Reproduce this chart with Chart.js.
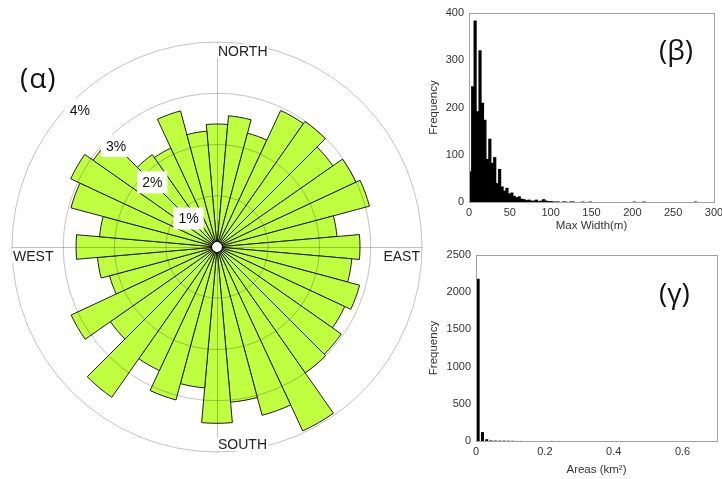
<!DOCTYPE html>
<html lang="en">
<head>
<meta charset="UTF-8">
<title>Rose diagram and size histograms</title>
<script src="https://cdn.jsdelivr.net/npm/chart.js"></script>
<style>
  body {
    margin: 0;
    width: 722px;
    height: 479px;
    overflow: hidden;
    position: relative;
    background: #fff;
  }
  canvas { position: absolute; }
  #rose { left: 0; top: 0; }
  #widthHist { left: 425px; top: 0; }
  #areaHist { left: 425px; top: 240px; }
  .tag {
    position: absolute;
    font-family: 'Open Sans', sans-serif;
    font-size: 28px;
    line-height: 28px;
    color: #111;
  }
</style>
</head>
<body>
<canvas id="rose" width="440" height="479"></canvas>
<canvas id="widthHist" width="310" height="235"></canvas>
<canvas id="areaHist" width="310" height="239"></canvas>
<div class="tag" style="left:20px; top:63px; letter-spacing:1px;">(α)</div>
<div class="tag" style="left:659px; top:35px;">(β)</div>
<div class="tag" style="left:659px; top:278px;">(γ)</div>

<script>
// rose: 10 degree sectors, clockwise from north, % of all lineaments
const sectorDeg = [0, 10, 20, 30, 40, 50, 60, 70, 80, 90, 100, 110,
                   120, 130, 140, 150, 160, 170, 180, 190, 200, 210, 220, 230,
                   240, 250, 260, 270, 280, 290, 300, 310, 320, 330, 340, 350];
const sectorPercent = [2.40, 2.57, 2.30, 2.94, 2.99, 2.76, 2.99, 3.08, 2.35, 2.79, 2.64, 2.88,
                       2.75, 2.96, 3.00, 3.96, 3.40, 3.04, 3.44, 2.76, 3.09, 2.66, 3.58, 2.54,
                       3.14, 2.17, 2.34, 2.75, 2.30, 2.95, 3.15, 2.95, 2.20, 2.13, 2.75, 2.27];
const ringValues = [1, 2, 3, 4];
const ringLabels = ['1%', '2%', '3%', '4%'];
const compassLabels = ['NORTH', 'EAST', 'SOUTH', 'WEST'];

// max width histogram, 3 m bins starting at 0
const widthBin = 3;
const widthCounts = [65, 245, 384, 192, 321, 210, 174, 91, 134, 83, 95, 40, 70, 33, 24, 30, 18, 20, 13, 10,
                     12, 7, 6, 4, 5, 3, 3, 5, 2, 3, 6, 3, 2, 2, 1, 1, 1, 0, 1, 1,
                     0, 1, 1, 0, 0, 0, 1, 0, 0, 1, 0, 0, 0, 0, 0, 0, 0, 0, 0, 0,
                     0, 0, 0, 0, 0, 0, 0, 1, 0, 0, 0, 1, 0, 0, 0, 0, 0, 0, 0, 0,
                     0, 0, 0, 0, 0, 0, 0, 0, 0, 0, 0, 0, 1, 0, 0, 0, 0, 0, 0, 0];
const widthTicks = [0, 50, 100, 150, 200, 250, 300];
const widthFreqTicks = [0, 100, 200, 300, 400];

// area histogram, 0.0125 km2 bins starting at 0
const areaBin = 0.0125;
const areaCounts = [2180, 120, 24, 8, 6, 5, 5, 4, 3, 1, 1, 0, 0, 0, 0, 0, 0, 1, 0, 0];
const areaTicks = [0, 0.2, 0.4, 0.6];
const areaMax = 0.7;
const areaFreqTicks = [0, 500, 1000, 1500, 2000, 2500];

Chart.defaults.font.family = '"Liberation Sans", Arial, sans-serif';
Chart.defaults.color = '#333';

const roseOverlay = {
    id: 'roseOverlay',
    afterDatasetsDraw(chart) {
        const r = chart.scales.r;
        const ctx = chart.ctx;
        const cx = r.xCenter, cy = r.yCenter;
        const outer = r.getDistanceFromCenterForValue(ringValues[ringValues.length - 1]);
        ctx.save();
        ctx.strokeStyle = 'rgba(0,0,0,0.24)';
        ctx.lineWidth = 1;
        ringValues.forEach(v => {
            ctx.beginPath();
            ctx.arc(cx, cy, r.getDistanceFromCenterForValue(v), 0, Math.PI * 2);
            ctx.stroke();
        });
        ctx.beginPath();
        ctx.moveTo(cx + 0.5, cy - outer);
        ctx.lineTo(cx + 0.5, cy + outer);
        ctx.moveTo(cx - outer, cy + 0.5);
        ctx.lineTo(cx + outer, cy + 0.5);
        ctx.stroke();

        // hole in the middle
        ctx.beginPath();
        ctx.arc(cx, cy, 5.5, 0, Math.PI * 2);
        ctx.fillStyle = '#fff';
        ctx.fill();
        ctx.strokeStyle = '#111';
        ctx.lineWidth = 1.2;
        ctx.stroke();

        ctx.font = '14px "Liberation Sans", Arial, sans-serif';
        ctx.textBaseline = 'middle';

        // percent labels along the NW diagonal
        ctx.textAlign = 'center';
        ringValues.forEach((v, i) => {
            const d = r.getDistanceFromCenterForValue(v) - 11;
            const x = cx - d * Math.SQRT1_2, y = cy - d * Math.SQRT1_2;
            const w = ctx.measureText(ringLabels[i]).width + 10;
            ctx.fillStyle = '#fff';
            ctx.fillRect(x - w / 2, y - 11, w, 22);
            ctx.fillStyle = '#111';
            ctx.fillText(ringLabels[i], x, y + 1);
        });

        // compass words
        const spots = [
            {x: cx + 1, y: cy - outer + 9, align: 'left'},
            {x: cx + outer - 2, y: cy + 9, align: 'right'},
            {x: cx + 1, y: cy + outer - 8, align: 'left'},
            {x: cx - outer + 1, y: cy + 9, align: 'left'}
        ];
        compassLabels.forEach((t, i) => {
            const s = spots[i];
            const w = ctx.measureText(t).width;
            const x0 = s.align === 'left' ? s.x : s.x - w;
            ctx.fillStyle = '#fff';
            ctx.fillRect(x0 - 1, s.y - 7, w + 2, 14);
            ctx.fillStyle = '#222';
            ctx.textAlign = s.align;
            ctx.fillText(t, s.x, s.y + 1);
        });
        ctx.restore();
    }
};

new Chart(document.getElementById('rose'), {
    type: 'polarArea',
    data: {
        labels: sectorDeg,
        datasets: [{
            data: sectorPercent,
            backgroundColor: '#bfff3f',
            borderColor: '#1c1c1c',
            borderWidth: 1
        }]
    },
    options: {
        responsive: false,
        animation: false,
        layout: { padding: { left: 12, top: 42, right: 18, bottom: 27 } },
        plugins: { legend: { display: false }, tooltip: { enabled: false } },
        scales: {
            r: {
                min: 0,
                max: 4,
                startAngle: -5,
                ticks: { display: false, stepSize: 1 },
                grid: { display: false },
                angleLines: { display: false },
                pointLabels: { display: false }
            }
        }
    },
    plugins: [roseOverlay]
});

const frame = {
    id: 'frame',
    afterDraw(chart) {
        const {ctx, chartArea: a} = chart;
        ctx.save();
        ctx.strokeStyle = '#a0a0a0';
        ctx.lineWidth = 1;
        ctx.strokeRect(Math.round(a.left) + 0.5, Math.round(a.top) + 0.5,
                       Math.round(a.right - a.left), Math.round(a.bottom - a.top));
        ctx.restore();
    }
};

function histogram(canvasId, counts, bin, xTicks, xMax, yTicks, xTitle, pad, axisW, axisH, barPct) {
    const pts = counts.map((c, i) => ({ x: (i + 0.5) * bin, y: c }));
    return new Chart(document.getElementById(canvasId), {
        type: 'bar',
        data: {
            datasets: [{
                data: pts,
                backgroundColor: '#000',
                borderWidth: 0,
                barPercentage: barPct,
                categoryPercentage: 1
            }]
        },
        options: {
            responsive: false,
            animation: false,
            layout: { padding: pad },
            plugins: { legend: { display: false }, tooltip: { enabled: false } },
            scales: {
                x: {
                    type: 'linear',
                    offset: false,
                    min: xTicks[0],
                    max: xMax,
                    grid: { display: false, drawTicks: false },
                    border: { display: false },
                    afterBuildTicks(s) { s.ticks = xTicks.map(v => ({ value: v })); },
                    ticks: { color: '#333', font: { size: 11 }, padding: 4, maxRotation: 0, autoSkip: false,
                             callback: v => String(v) },
                    title: { display: true, text: xTitle, color: '#333', font: { size: 11.5 }, padding: { top: 0, bottom: 2 } },
                    afterFit(s) { s.height = axisH; }
                },
                y: {
                    min: yTicks[0],
                    max: yTicks[yTicks.length - 1],
                    grid: { display: false, drawTicks: false },
                    border: { display: false },
                    afterBuildTicks(s) { s.ticks = yTicks.map(v => ({ value: v })); },
                    ticks: { color: '#333', font: { size: 11 }, padding: 5, callback: v => String(v) },
                    title: { display: true, text: 'Frequency', color: '#333', font: { size: 11.5 }, padding: { top: 2, bottom: 0 } },
                    afterFit(s) { s.width = axisW; }
                }
            }
        },
        plugins: [frame]
    });
}

histogram('widthHist', widthCounts, widthBin, widthTicks, widthTicks[widthTicks.length - 1], widthFreqTicks,
          'Max Width(m)', { top: 13, right: 21, bottom: 0, left: 0 }, 44, 33, 1.3);
histogram('areaHist', areaCounts, areaBin, areaTicks, areaMax, areaFreqTicks,
          'Areas (km²)', { top: 15, right: 18, bottom: 0, left: 0 }, 51, 38, 0.7);
</script>
</body>
</html>
